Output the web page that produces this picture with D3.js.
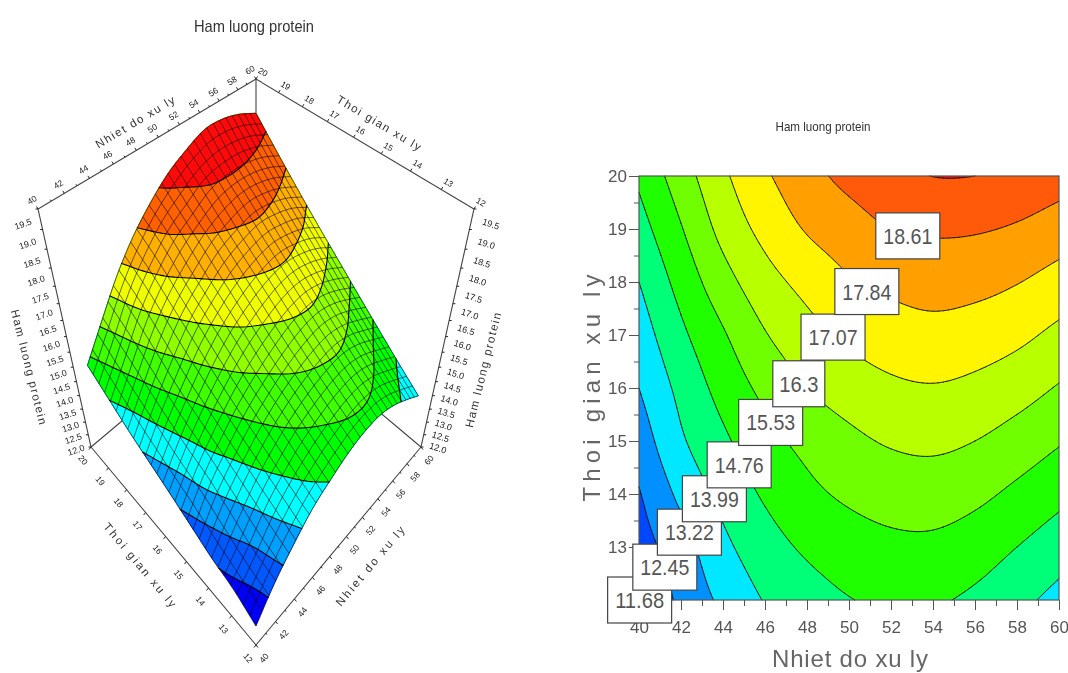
<!DOCTYPE html>
<html>
<head>
<meta charset="utf-8">
<script src="https://cdnjs.cloudflare.com/ajax/libs/d3/7.8.5/d3.min.js"></script>
<style>
  body { margin: 0; background: #fff; }
  svg { display: block; }
  text { font-family: "Liberation Sans", sans-serif; }
</style>
</head>
<body>
<svg id="chart" width="1068" height="673"></svg>
<script>
// values
var temps = [40, 42, 44, 46, 48, 50, 52, 54, 56, 58, 60];
var times = [12, 13, 14, 15, 16, 17, 18, 19, 20];

var protein12 = [11.60, 12.62, 13.38, 14.03, 14.42, 14.73, 14.88, 14.85, 14.60, 14.20, 13.75];
var protein13 = [12.10, 12.90, 13.80, 14.43, 14.88, 15.17, 15.35, 15.36, 15.14, 14.76, 14.35];
var protein14 = [12.40, 13.40, 14.22, 14.86, 15.34, 15.66, 15.85, 15.90, 15.71, 15.36, 14.97];
var protein15 = [12.81, 13.88, 14.62, 15.27, 15.75, 16.12, 16.38, 16.46, 16.30, 15.98, 15.60];
var protein16 = [13.22, 14.20, 15.03, 15.73, 16.30, 16.67, 16.93, 17.02, 16.89, 16.62, 16.24];
var protein17 = [13.60, 14.60, 15.45, 16.25, 16.80, 17.22, 17.47, 17.58, 17.47, 17.25, 16.88];
var protein18 = [13.99, 15.03, 16.00, 16.77, 17.31, 17.77, 18.02, 18.16, 18.08, 17.87, 17.55];
var protein19 = [14.45, 15.48, 16.53, 17.30, 17.90, 18.27, 18.62, 18.71, 18.68, 18.52, 18.24];
var protein20 = [14.90, 15.93, 16.93, 17.73, 18.34, 18.83, 19.15, 19.39, 19.38, 19.22, 18.95];
var proteinRows = [protein12, protein13, protein14, protein15, protein16, protein17, protein18, protein19, protein20];

// right plot
var contourLevels = [11.68, 12.45, 13.22, 13.99, 14.76, 15.53, 16.3, 17.07, 17.84, 18.61, 19.38];
var contourColors = ["#0000ff", "#0048ff", "#0090ff", "#00e8ff", "#00ff78", "#20ff00", "#70ff00", "#b8ff00", "#fff500", "#ffa000", "#ff5a0a", "#ee1010"];
var labelTemps = [40.03, 41.23, 42.4, 43.59, 44.77, 46.27, 47.61, 49.24, 50.85, 52.8];
var labelTimes = [12.0, 12.62, 13.28, 13.91, 14.55, 15.35, 16.08, 16.96, 17.82, 18.87];
var labelTexts = ["11.68", "12.45", "13.22", "13.99", "14.76", "15.53", "16.3", "17.07", "17.84", "18.61"];

// left plot
var surfaceLevels = [12.3, 13.0, 13.7, 14.4, 15.1, 15.8, 16.5, 17.2, 17.9, 18.6];
var surfaceColors = ["#0000f5", "#0058ff", "#00a0ff", "#00ffff", "#00ff00", "#40ff00", "#90ff00", "#f0ff00", "#ffb000", "#ff6000", "#ff0a0a"];
var tempTicks = [40, 42, 44, 46, 48, 50, 52, 54, 56, 58, 60];
var timeTicks = [12, 13, 14, 15, 16, 17, 18, 19, 20];
var proteinTicks = [12, 12.5, 13, 13.5, 14, 14.5, 15, 15.5, 16, 16.5, 17, 17.5, 18, 18.5, 19, 19.5];

var svg = d3.select("#chart");
var inkLeft = svg.append("g").style("filter", "blur(0.35px)");
var inkRight = svg.append("g").style("filter", "blur(0.35px)");

// smooth reading between the table cells, only used to draw curves and the mesh
function cardinal(a, b, c, d, t) {
  return b + 0.5 * t * (c - a + t * (2 * a - 5 * b + 4 * c - d + t * (3 * (b - c) + d - a)));
}
function cell(i, j) {
  var ni = temps.length, nj = times.length;
  if (i < 0) return 2 * cell(0, j) - cell(1, j);
  if (i >= ni) return 2 * cell(ni - 1, j) - cell(ni - 2, j);
  if (j < 0) return 2 * cell(i, 0) - cell(i, 1);
  if (j >= nj) return 2 * cell(i, nj - 1) - cell(i, nj - 2);
  return proteinRows[j][i];
}
function proteinAt(t, h) {
  var gx = (t - 40) / 2, gy = h - 12;
  var i = Math.min(Math.floor(gx), temps.length - 2), j = Math.min(Math.floor(gy), times.length - 2);
  var fx = gx - i, fy = gy - j, col = [];
  for (var k = -1; k <= 2; k++) {
    col.push(cardinal(cell(i - 1, j + k), cell(i, j + k), cell(i + 1, j + k), cell(i + 2, j + k), fx));
  }
  return cardinal(col[0], col[1], col[2], col[3], fy);
}

var nx = 81, ny = 65, fine = [];
for (var jy = 0; jy < ny; jy++) {
  for (var ix = 0; ix < nx; ix++) fine.push(proteinAt(40 + ix * 0.25, 12 + jy * 0.125));
}
var fineTemp = d3.scaleLinear().domain([0.5, nx - 0.5]).range([40, 60]).clamp(true);
var fineTime = d3.scaleLinear().domain([0.5, ny - 0.5]).range([12, 20]).clamp(true);

function inside(p) {
  var a = fineTemp(p[0]), b = fineTime(p[1]);
  return a > 40 && a < 60 && b > 12 && b < 20;
}
function bandPath(c, toScreen) {
  var s = "";
  c.coordinates.forEach(function (poly) {
    poly.forEach(function (ring) {
      s += "M" + ring.map(function (p) { return toScreen(fineTemp(p[0]), fineTime(p[1]), c.value).join(","); }).join("L") + "Z";
    });
  });
  return s;
}
// the same ring but without the parts that follow the border of the plot
function linePath(c, toScreen) {
  var s = "";
  c.coordinates.forEach(function (poly) {
    poly.forEach(function (ring) {
      for (var i = 0; i < ring.length - 1; i++) {
        if (inside(ring[i]) || inside(ring[i + 1])) {
          s += "M" + toScreen(fineTemp(ring[i][0]), fineTime(ring[i][1]), c.value).join(",") +
               "L" + toScreen(fineTemp(ring[i + 1][0]), fineTime(ring[i + 1][1]), c.value).join(",");
        }
      }
    });
  });
  return s;
}

// ---------- right: contour plot ----------
var x = d3.scaleLinear().domain([40, 60]).range([639, 1059]);
var y = d3.scaleLinear().domain([12, 20]).range([600, 176]);
var toPlane = function (t, h) { return [x(t), y(h)]; };

var planeBands = d3.contours().size([nx, ny]).thresholds([-1].concat(contourLevels))(fine);
inkRight.selectAll(".band").data(planeBands).enter().append("path")
  .attr("class", "band")
  .attr("d", function (c) { return bandPath(c, toPlane); })
  .attr("fill", function (c, i) { return contourColors[i]; });
inkRight.selectAll(".level").data(planeBands.slice(1)).enter().append("path")
  .attr("class", "level")
  .attr("d", function (c) { return linePath(c, toPlane); })
  .attr("fill", "none").attr("stroke", "#111").attr("stroke-width", 0.9).attr("stroke-linecap", "round");

inkRight.append("rect").attr("x", 639).attr("y", 176).attr("width", 420).attr("height", 424)
  .attr("fill", "none").attr("stroke", "#555").attr("stroke-width", 1.2);

function styleAxis(g) {
  g.select(".domain").remove();
  g.selectAll("line").attr("stroke", "#555");
  g.selectAll("text").attr("fill", "#555").style("font-size", "17px");
}
inkRight.append("g").attr("transform", "translate(0,600)")
  .call(d3.axisBottom(x).tickValues(d3.range(40, 61, 1)).tickSize(6).tickFormat("")).call(styleAxis);
inkRight.append("g").attr("transform", "translate(0,600)")
  .call(d3.axisBottom(x).tickValues(tempTicks).tickSize(10).tickPadding(11).tickFormat(d3.format("d"))).call(styleAxis);
inkRight.append("g").attr("transform", "translate(639,0)")
  .call(d3.axisLeft(y).tickValues(d3.range(12, 20.5, 0.5)).tickSize(5).tickFormat("")).call(styleAxis);
inkRight.append("g").attr("transform", "translate(639,0)")
  .call(d3.axisLeft(y).tickValues(timeTicks).tickSize(10).tickPadding(2).tickFormat(d3.format("d"))).call(styleAxis);

inkRight.append("text").attr("x", 850).attr("y", 667).attr("text-anchor", "middle")
  .attr("fill", "#666").style("font-size", "24px").attr("textLength", 156).text("Nhiet do xu ly");
inkRight.append("text").attr("transform", "translate(600,388) rotate(-90)").attr("text-anchor", "middle")
  .attr("fill", "#666").style("font-size", "24px").attr("textLength", 227).text("Thoi gian xu ly");
inkRight.append("text").attr("x", 823).attr("y", 131).attr("text-anchor", "middle")
  .attr("fill", "#333").style("font-size", "13px").attr("textLength", 95).attr("lengthAdjust", "spacingAndGlyphs").text("Ham luong protein");

var tag = inkRight.selectAll(".tag").data(labelTexts).enter().append("g").attr("class", "tag")
  .attr("transform", function (d, i) { return "translate(" + x(labelTemps[i]) + "," + y(labelTimes[i]) + ")"; });
tag.append("rect")
  .attr("x", function (d) { return d.length < 5 ? -26 : -32; }).attr("y", -23)
  .attr("width", function (d) { return d.length < 5 ? 52 : 64; }).attr("height", 46)
  .attr("fill", "#fff").attr("stroke", "#444").attr("stroke-width", 1.2);
tag.append("text").attr("text-anchor", "middle").attr("y", 8)
  .attr("fill", "#555").style("font-size", "22px")
  .attr("textLength", function (d) { return d.length * 9.8; }).attr("lengthAdjust", "spacingAndGlyphs")
  .text(function (d) { return d; });

// ---------- left: surface ----------
function project(u, v, w) {
  var s = u + v, d = 1 + 0.2136 * s - 0.295 * w;
  return [256 + 200.2 * (u - v) / d, (645 - 102.5 * s - 350.5 * w) / d];
}
var boxTemp = d3.scaleLinear().domain([40, 60]).range([0, 1]);
var boxTime = d3.scaleLinear().domain([12, 20]).range([0, 1]);
var boxProtein = d3.scaleLinear().domain([12, 19.5]).range([0, 1]);
var surfTemp = d3.scaleLinear().domain([40, 60]).range([0.04, 0.96]);
var surfTime = d3.scaleLinear().domain([12, 20]).range([0.04, 0.96]);
var surfProtein = d3.scaleLinear().domain([11.6, 19.68]).range([0, 1]);

function toSurface(t, h) {
  return project(surfTemp(t), surfTime(h), surfProtein(proteinAt(t, h)));
}
var edge = d3.line();
function boxLine(a, b) {
  inkLeft.append("path").attr("d", edge([project(a[0], a[1], a[2]), project(b[0], b[1], b[2])]))
    .attr("fill", "none").attr("stroke", "#444").attr("stroke-width", 1.1);
}
boxLine([0, 1, 0], [0, 1, 1]);
boxLine([1, 0, 0], [1, 0, 1]);
boxLine([0, 1, 1], [1, 1, 1]);
boxLine([1, 1, 1], [1, 0, 1]);
boxLine([1, 1, 1], [1, 1, 0]);
boxLine([0, 0, 0], [1, 0, 0]);
boxLine([0, 0, 0], [0, 1, 0]);
boxLine([0, 1, 0], [1, 1, 0]);
boxLine([1, 0, 0], [1, 1, 0]);

var surfaceBands = d3.contours().size([nx, ny]).thresholds([-1].concat(surfaceLevels))(fine);
inkLeft.selectAll(".sband").data(surfaceBands).enter().append("path")
  .attr("class", "sband")
  .attr("d", function (c) { return bandPath(c, toSurface); })
  .attr("fill", function (c, i) { return surfaceColors[i]; })
  .attr("stroke", function (c, i) { return surfaceColors[i]; }).attr("stroke-width", 0.3);

// mesh, 28 cells each way
var meshCells = 28;
var meshLine = d3.line();
d3.range(0, meshCells + 1).forEach(function (k) {
  var t = 40 + k * 20 / meshCells, h = 12 + k * 8 / meshCells;
  inkLeft.append("path").attr("d", meshLine(d3.range(0, 41).map(function (m) { return toSurface(t, 12 + m * 0.2); })))
    .attr("fill", "none").attr("stroke", "#000").attr("stroke-opacity", 0.68).attr("stroke-width", 0.85);
  inkLeft.append("path").attr("d", meshLine(d3.range(0, 41).map(function (m) { return toSurface(40 + m * 0.5, h); })))
    .attr("fill", "none").attr("stroke", "#000").attr("stroke-opacity", 0.68).attr("stroke-width", 0.85);
});
inkLeft.selectAll(".sline").data(surfaceBands.slice(1)).enter().append("path")
  .attr("class", "sline")
  .attr("d", function (c) { return linePath(c, toSurface); })
  .attr("fill", "none").attr("stroke", "#000").attr("stroke-width", 1.1).attr("stroke-linecap", "round");

// box ticks and labels
function addTick(p, dx, dy) {
  inkLeft.append("path").attr("d", edge([p, [p[0] + dx, p[1] + dy]])).attr("stroke", "#222").attr("stroke-width", 1);
}
function addLabel(p, dx, dy, angle, txt, size) {
  inkLeft.append("text").attr("transform", "translate(" + (p[0] + dx) + "," + (p[1] + dy) + ") rotate(" + angle + ")")
    .attr("text-anchor", "middle").attr("dy", "0.35em").attr("fill", "#222")
    .style("font-size", (size || 8.5) + "px").text(txt);
}
tempTicks.forEach(function (t) {
  var a = project(boxTemp(t), 1, 1), b = project(boxTemp(t), 0, 0);
  addTick(a, -1.5, -2.5); addTick(b, 2, 2.5);
  addLabel(a, -6, -9, -31, t);
  addLabel(b, 8, 13, -50, t);
});
d3.range(41, 60, 2).forEach(function (t) {
  addTick(project(boxTemp(t), 1, 1), -1, -1.5);
  addTick(project(boxTemp(t), 0, 0), 1, 1.5);
});
timeTicks.forEach(function (h) {
  var a = project(1, boxTime(h), 1), b = project(0, boxTime(h), 0);
  addTick(a, 1.5, -2.5); addTick(b, -2, 2.5);
  addLabel(a, 7, -7, 31, h);
  addLabel(b, -8, 13, 50, h);
});
proteinTicks.forEach(function (z) {
  var w = boxProtein(z), a = project(0, 1, w), b = project(1, 0, w), lab = d3.format(".1f")(z);
  addTick(a, -2.5, 0); addTick(b, 2.5, 0);
  addLabel(a, -15, 3 + 12 * w, -18, lab, 9);
  addLabel(b, 17, 1 + 14 * w, 18, lab, 9);
});

function axisTitle(px, py, angle, txt, len) {
  inkLeft.append("text").attr("transform", "translate(" + px + "," + py + ") rotate(" + angle + ")")
    .attr("text-anchor", "middle").attr("dy", "0.35em").attr("fill", "#333")
    .style("font-size", "11.5px").attr("textLength", len).text(txt);
}
axisTitle(135, 122, -31, "Nhiet do xu ly", 90);
axisTitle(379, 123, 31, "Thoi gian xu ly", 96);
axisTitle(140, 565, 50, "Thoi gian xu ly", 106);
axisTitle(370, 566, -50, "Nhiet do xu ly", 100);
axisTitle(29, 367, 76, "Ham luong protein", 118);
axisTitle(483, 370, -76, "Ham luong protein", 118);

inkLeft.append("text").attr("x", 254).attr("y", 32).attr("text-anchor", "middle")
  .attr("fill", "#333").style("font-size", "17px").attr("textLength", 120).attr("lengthAdjust", "spacingAndGlyphs")
  .text("Ham luong protein");
</script>
</body>
</html>
